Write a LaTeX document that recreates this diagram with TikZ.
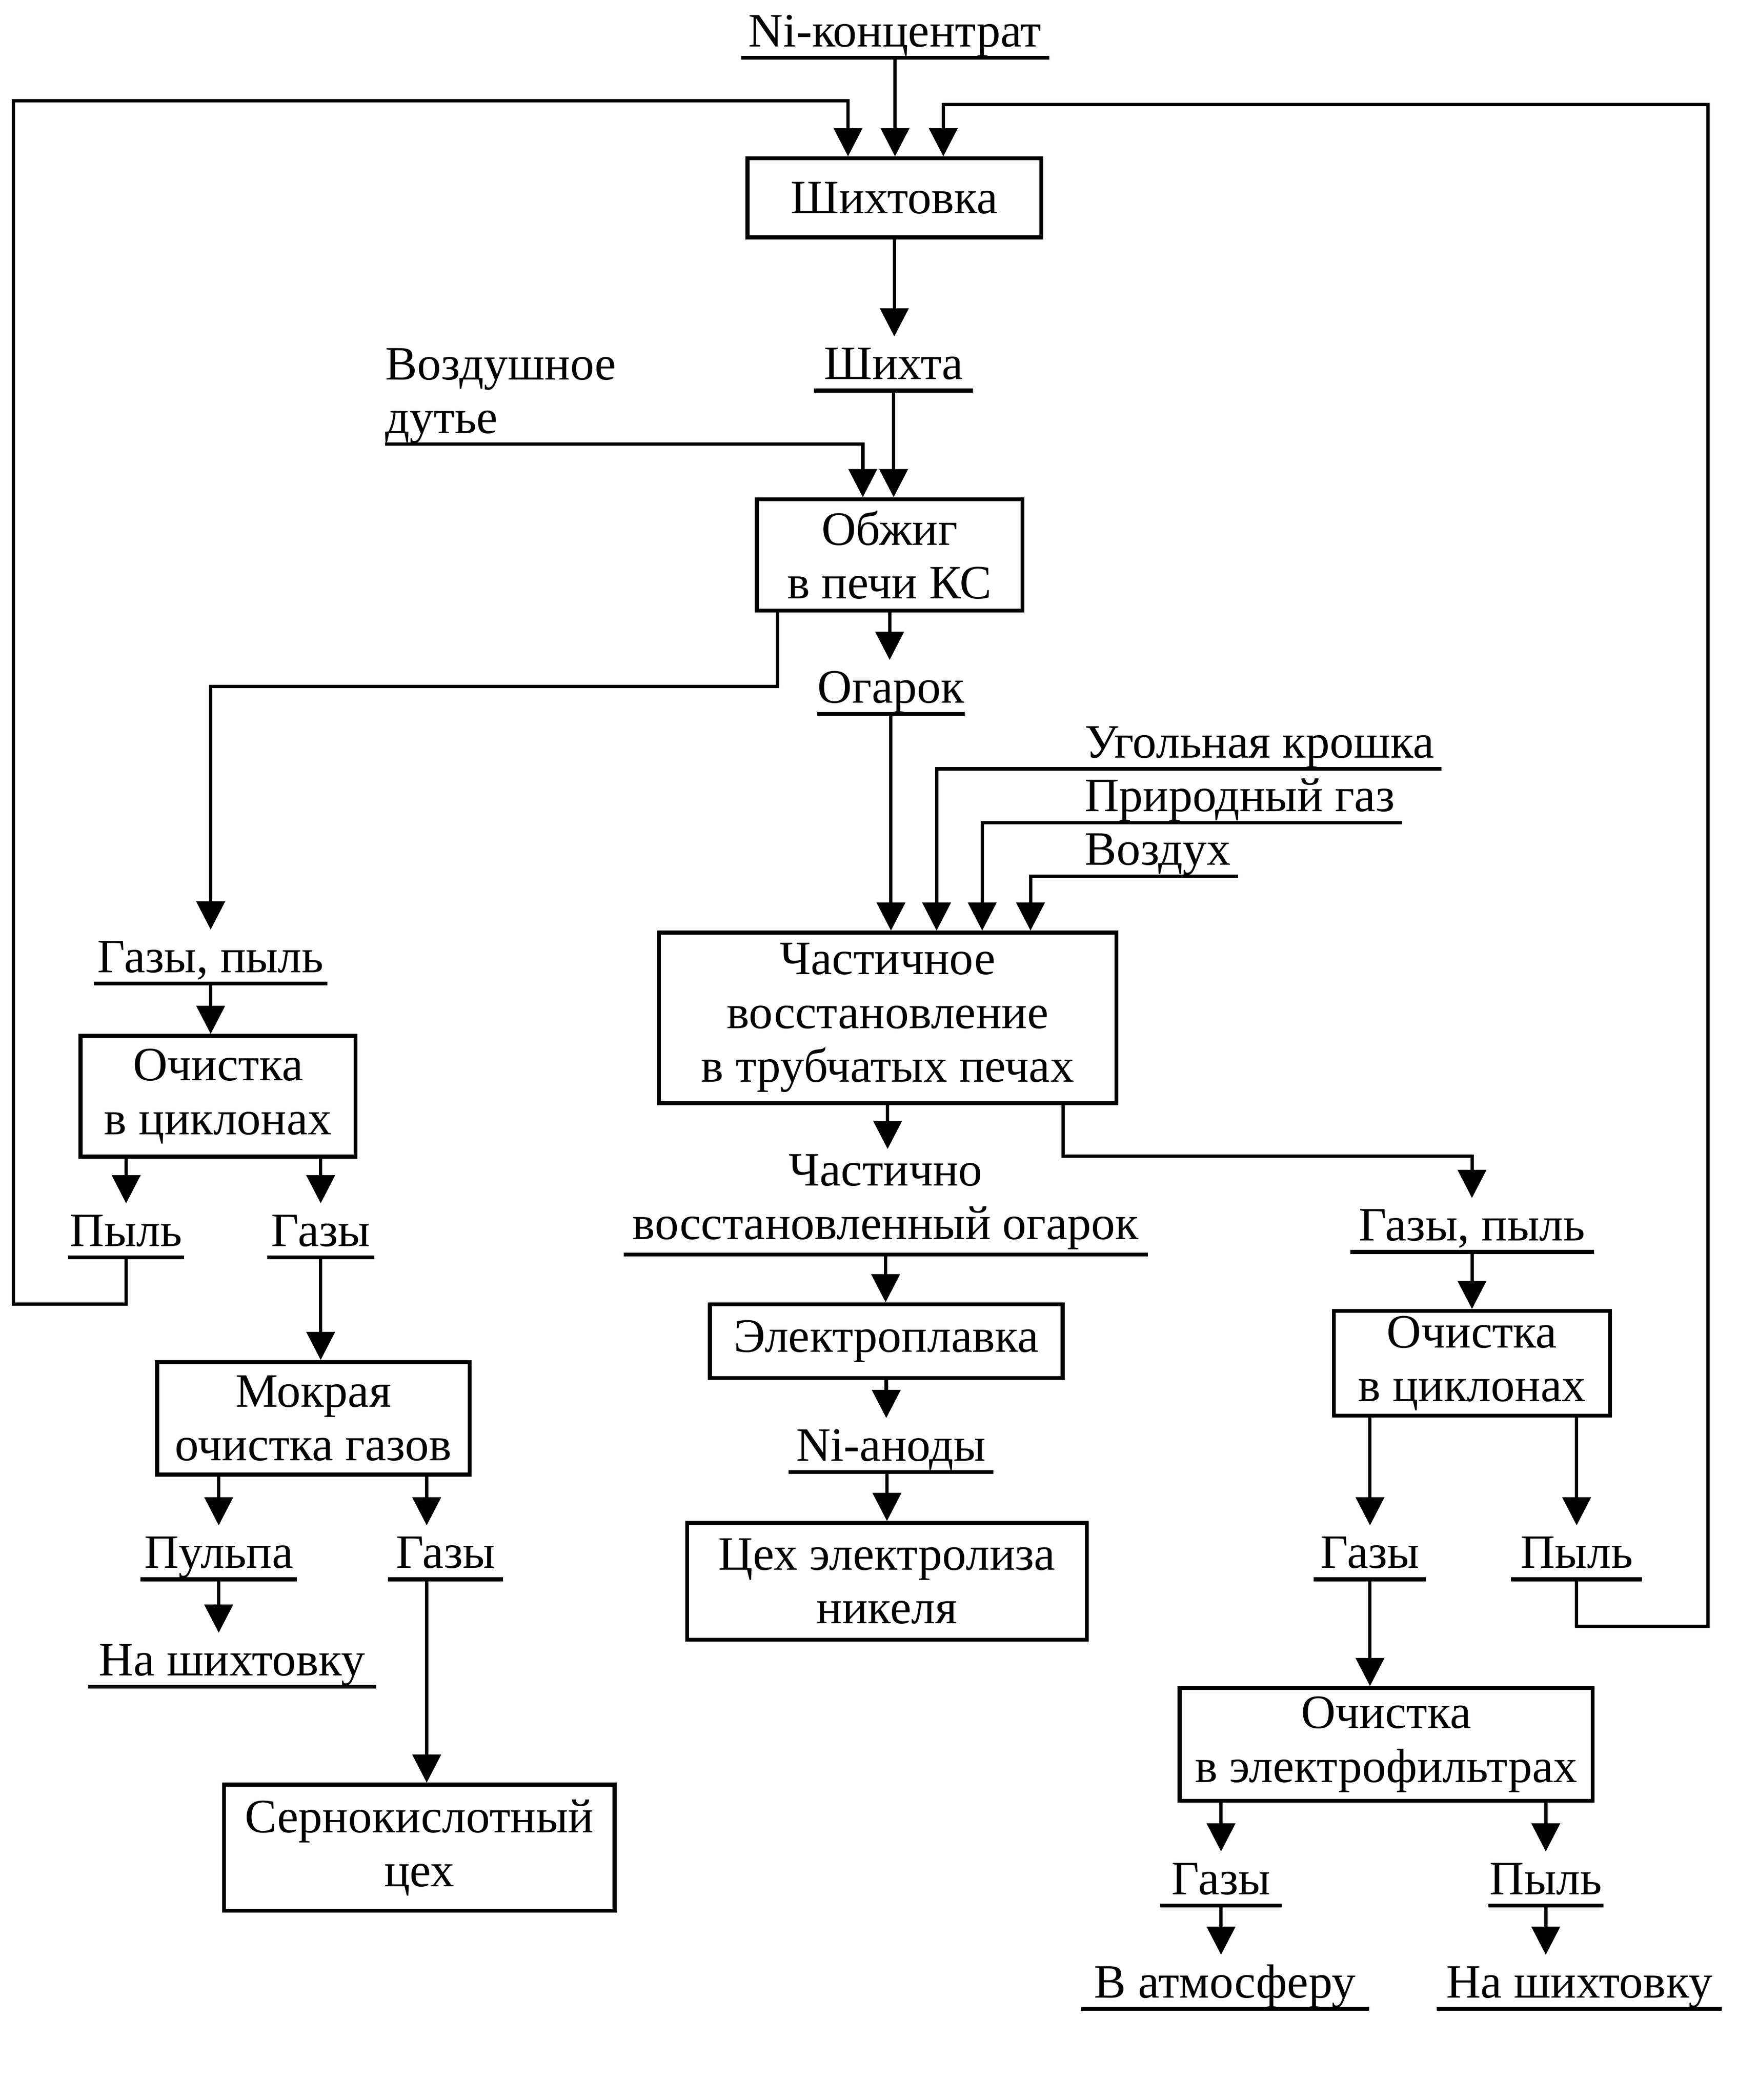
\documentclass[tikz,border=0pt]{standalone}
\usepackage{fontspec}
\setmainfont{Liberation Serif}
\usetikzlibrary{positioning}
\usetikzlibrary{calc}
\usetikzlibrary{arrows.meta}

\begin{document}
\begin{tikzpicture}[x=0.02cm,y=-0.02cm]
% définition des paramètres
\tikzstyle boiteprocede=[draw,line width=1.7pt,align=center,inner sep=0pt,font=\fontsize{20.3}{22.8}\selectfont]
\tikzstyle produitsouligne=[anchor=south,inner xsep=0pt,inner ysep=4.5pt,text height=13.5pt,text depth=0pt,font=\fontsize{20.3}{22.8}\selectfont]
\tikzstyle entreeflux=[inner xsep=0.1cm,inner ysep=4.5pt,text depth=0pt,anchor=south west,font=\fontsize{20.3}{22.8}\selectfont]
\tikzstyle soulignement=[line width=1.7pt]
\tikzstyle flecheflux=[line width=1.4pt,-{Triangle[length=0.42cm,width=0.42cm]}]
\useasboundingbox (0,0) rectangle (1310,1565);
% les boîtes
\node[boiteprocede,minimum width=4.38cm,minimum height=1.18cm] (shixtovka) at (666.5,147.5) {Шихтовка};
\node[boiteprocede,minimum width=3.96cm,minimum height=1.66cm] (obzhig) at (663,413.5) {Обжиг\\в печи КС};
\node[boiteprocede,minimum width=4.10cm,minimum height=1.80cm] (ochistka1) at (162.5,817) {Очистка\\в циклонах};
\node[boiteprocede,minimum width=4.66cm,minimum height=1.68cm] (mokraya) at (233.5,1057) {Мокрая\\очистка газов};
\node[boiteprocede,minimum width=5.82cm,minimum height=1.88cm] (sernokis) at (312.5,1377) {Сернокислотный\\цех};
\node[boiteprocede,minimum width=6.82cm,minimum height=2.54cm] (chast) at (661.5,758.5) {Частичное\\восстановление\\в трубчатых печах};
\node[boiteprocede,minimum width=5.26cm,minimum height=1.10cm] (elektro) at (660.5,999.5) {Электроплавка};
\node[boiteprocede,minimum width=5.96cm,minimum height=1.74cm] (tsex) at (661,1178.5) {Цех электролиза\\никеля};
\node[boiteprocede,minimum width=4.12cm,minimum height=1.56cm] (ochistka2) at (1097,1016) {Очистка\\в циклонах};
\node[boiteprocede,minimum width=6.16cm,minimum height=1.68cm] (elfiltr) at (1033,1300) {Очистка\\в электрофильтрах};
% les produits soulignés
\node[produitsouligne,minimum width=4.58cm] (nikonc) at (667,43) {Ni-концентрат};
\node[produitsouligne,minimum width=2.36cm] (shixta) at (666,291) {Шихта};
\node[produitsouligne,minimum width=2.16cm] (ogarok) at (664,532) {Огарок};
\node[produitsouligne,minimum width=3.46cm] (gazpyl1) at (157,733) {Газы, пыль};
\node[produitsouligne,minimum width=1.72cm] (pyl1) at (94,937) {Пыль};
\node[produitsouligne,minimum width=1.58cm] (gazy1) at (239,937) {Газы};
\node[produitsouligne,minimum width=2.32cm] (pulpa) at (163,1177) {Пульпа};
\node[produitsouligne,minimum width=1.70cm] (gazy2) at (332,1177) {Газы};
\node[produitsouligne,minimum width=4.28cm] (nashixt1) at (173,1257) {На шихтовку};
\node[anchor=south,align=center,inner xsep=0pt,inner ysep=2pt,minimum width=7.80cm,font=\fontsize{20.3}{22.8}\selectfont] (chastvos) at (660,935) {Частично\\восстановленный огарок};
\node[produitsouligne,minimum width=3.04cm] (nianod) at (664,1097) {Ni-аноды};
\node[produitsouligne,minimum width=3.62cm] (gazpyl2) at (1097,933) {Газы, пыль};
\node[produitsouligne,minimum width=1.66cm] (gazy3) at (1021,1177) {Газы};
\node[produitsouligne,minimum width=1.94cm] (pyl2) at (1175,1177) {Пыль};
\node[produitsouligne,minimum width=1.80cm] (gazy4) at (910,1420) {Газы};
\node[produitsouligne,minimum width=1.70cm] (pyl3) at (1152,1420) {Пыль};
\node[produitsouligne,minimum width=4.28cm] (vatm) at (913,1497) {В атмосферу};
\node[produitsouligne,minimum width=4.24cm] (nashixt2) at (1177,1497) {На шихтовку};
\foreach \n in {nikonc,shixta,ogarok,gazpyl1,pyl1,gazy1,pulpa,gazy2,nashixt1,chastvos,nianod,gazpyl2,gazy3,pyl2,gazy4,pyl3,vatm,nashixt2}
    \draw[soulignement] (\n.south west) -- (\n.south east);
% les entrées
\node[anchor=south west,align=left,inner sep=0pt,font=\fontsize{20.3}{22.8}\selectfont] (vozd) at (287,331) {Воздушное\\дутье};
\node[entreeflux] (ugol) at (803,573) {Угольная крошка};
\node[entreeflux] (prirod) at (803,613) {Природный газ};
\node[entreeflux] (vozdux) at (803,653) {Воздух};
% les boucles
\coordinate (bouclegh) at (10,75);
\coordinate (bouclegb) at (10,972);
\coordinate (boucledh) at (1273,78);
\coordinate (boucledb) at (1273,1212);
% les flèches
\draw[flecheflux] (nikonc.south) -- (nikonc.south |- shixtovka.north);
\draw[flecheflux] (shixtovka.south) -- (shixtovka.south |- shixta.north);
\draw[flecheflux] (shixta.south) -- (shixta.south |- obzhig.north);
\draw[flecheflux] (vozd.south west) -| ($(obzhig.north)+(-20,0)$);
\draw[flecheflux] (obzhig.south) -- (obzhig.south |- ogarok.north);
\draw[flecheflux] ($(obzhig.south west)+(17,0)$) -- ++(0,55) -| (gazpyl1.north);
\draw[flecheflux] (gazpyl1.south) -- (gazpyl1.south |- ochistka1.north);
\draw[flecheflux] (pyl1.north |- ochistka1.south) -- (pyl1.north);
\draw[flecheflux] (gazy1.north |- ochistka1.south) -- (gazy1.north);
\draw[flecheflux] (pyl1.south) |- (bouclegb) -- (bouclegh) -| ($(shixtovka.north)+(-34.5,0)$);
\draw[flecheflux] (gazy1.south) -- (gazy1.south |- mokraya.north);
\draw[flecheflux] (pulpa.north |- mokraya.south) -- (pulpa.north);
\draw[flecheflux] ($(mokraya.south)+(84.5,0)$) -- ($(gazy2.north)+(-14,0)$);
\draw[flecheflux] (pulpa.south) -- (pulpa.south |- nashixt1.north);
\draw[flecheflux] ($(gazy2.south)+(-14,0)$) -- ($(sernokis.north)+(5.5,0)$);
\draw[flecheflux] (ogarok.south) -- (ogarok.south |- chast.north);
\draw[flecheflux] (ugol.south east) -| ($(chast.north)+(36.5,0)$);
\draw[flecheflux] (prirod.south east) -| ($(chast.north)+(70.5,0)$);
\draw[flecheflux] (vozdux.south east) -| ($(chast.north)+(106.5,0)$);
\draw[flecheflux] (chast.south) -- (chast.south |- chastvos.north);
\draw[flecheflux] ($(chast.south east)+(-41,0)$) -- ++(0,38) -| (gazpyl2.north);
\draw[flecheflux] (chastvos.south) -- (chastvos.south |- elektro.north);
\draw[flecheflux] (elektro.south) -- (elektro.south |- nianod.north);
\draw[flecheflux] (tsex.north |- nianod.south) -- (tsex.north);
\draw[flecheflux] (gazpyl2.south) -- (gazpyl2.south |- ochistka2.north);
\draw[flecheflux] (gazy3.north |- ochistka2.south) -- (gazy3.north);
\draw[flecheflux] (pyl2.north |- ochistka2.south) -- (pyl2.north);
\draw[flecheflux] (gazy3.south) -- (gazy3.south |- elfiltr.north);
\draw[flecheflux] (pyl2.south) |- (boucledb) -- (boucledh) -| ($(shixtovka.north)+(36.5,0)$);
\draw[flecheflux] (gazy4.north |- elfiltr.south) -- (gazy4.north);
\draw[flecheflux] (pyl3.north |- elfiltr.south) -- (pyl3.north);
\draw[flecheflux] (gazy4.south) -- (gazy4.south |- vatm.north);
\draw[flecheflux] (pyl3.south) -- (pyl3.south |- nashixt2.north);
\end{tikzpicture}
\end{document}
